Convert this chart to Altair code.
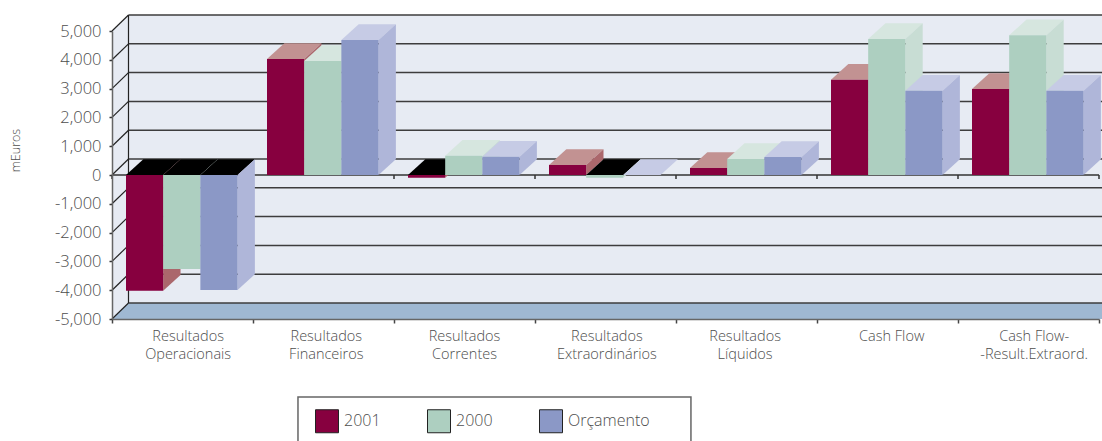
import altair as alt
import pandas as pd

CATEGORIES = [
    "Resultados\nOperacionais",
    "Resultados\nFinanceiros",
    "Resultados\nCorrentes",
    "Resultados\nExtraordinários",
    "Resultados\nLíquidos",
    "Cash Flow",
    "Cash Flow-\n-Result.Extraord.",
]
SERIES = ["2001", "2000", "Orçamento"]
VALUES_2001 = [-4020, 4030, -95, 345, 245, 3310, 2985]
VALUES_2000 = [-3265, 3960, 670, -95, 555, 4720, 4850]
VALUES_BUDGET = [-3990, 4690, 635, 0, 625, 2925, 2925]
SERIES_VALUES = [VALUES_2001, VALUES_2000, VALUES_BUDGET]

FRONT = ["#87003f", "#adcfc0", "#8b98c6"]
TOP = ["#c29292", "#d6e6df", "#c6cbe5"]
SIDE = ["#ab676c", "#c8ddd4", "#afb6d9"]
WALL = "#e7ebf3"
FLOOR = "#9fb8d2"
TEXT = "#4d4d4d"
FONT = "Open Sans"

LEVELS = list(range(-5000, 6000, 1000))
TICK_LEVELS = [v for v in LEVELS if v <= 5000]
EDGES = list(range(8))
LABEL_CENTERS = [0.54, 1.52, 2.50, 3.51, 4.49, 5.53, 6.54]

# Oblique projection of the depth axis, in data units
WALL_DX, WALL_DY = 0.117, 555
BAR_DX, BAR_DY = 0.123, 545
BAR_START, BAR_WIDTH = 0.0993, 0.2637
RIGHT = 7.2

X = alt.Scale(domain=[0, 7], nice=False, zero=False)
Y = alt.Scale(domain=[-5000, 5000], nice=False, zero=False)

X_AXIS = alt.Axis(
    values=EDGES, labels=False, grid=False, tickSize=4, tickColor="#444444",
    tickWidth=1.5, domainColor="#666666", domainWidth=1.5, zindex=1, title=None,
)
Y_AXIS = alt.Axis(
    values=TICK_LEVELS,
    labelExpr="replace(format(datum.value, ','), '−', '-')",
    grid=False, tickSize=3, tickColor="#333333", tickWidth=1.5,
    domainColor="#666666", domainWidth=1.5, labelColor=TEXT, labelFont=FONT,
    labelFontSize=16.5, labelFontWeight=300, labelPadding=8, zindex=1,
    title="mEuros", titleFont=FONT, titleFontSize=12.5, titleFontWeight=300,
    titleColor=TEXT, titleX=-90, titleY=119, titleAngle=270,
)


def xq(field="x"):
    return alt.X(f"{field}:Q", scale=X, axis=X_AXIS)


def yq(field="y"):
    return alt.Y(f"{field}:Q", scale=Y, axis=Y_AXIS)


def x2(field="x2"):
    return alt.X2(f"{field}:Q")


def y2(field="y2"):
    return alt.Y2(f"{field}:Q")


def rules(rows, color, width):
    return alt.Chart(pd.DataFrame(rows)).mark_rule(color=color, strokeWidth=width).encode(
        x=xq(), x2=x2(), y=yq(), y2=y2()
    )


def vertical_face(rows, color):
    """Parallelogram with vertical ends: bar sides and the left wall."""
    return alt.Chart(pd.DataFrame(rows)).mark_area(
        color=color, orient="vertical", opacity=1
    ).encode(x=xq(), y=yq(), y2=y2(), detail="key:N")


def horizontal_face(rows, color):
    """Parallelogram with horizontal ends: bar tops and the floor."""
    return alt.Chart(pd.DataFrame(rows)).mark_area(
        color=color, orient="horizontal", opacity=1
    ).encode(y=yq(), x=xq(), x2=x2(), detail="key:N")


layers = []

# Back wall, left wall and floor
layers.append(
    alt.Chart(pd.DataFrame([{"x": WALL_DX, "x2": RIGHT, "y": -5000 + WALL_DY, "y2": 5000 + WALL_DY}]))
    .mark_rect(color=WALL, opacity=1)
    .encode(x=xq(), x2=x2(), y=yq(), y2=y2())
)
layers.append(vertical_face(
    [{"key": "wall", "x": 0, "y": -5000, "y2": 5000},
     {"key": "wall", "x": WALL_DX, "y": -5000 + WALL_DY, "y2": 5000 + WALL_DY}], WALL))
layers.append(horizontal_face(
    [{"key": "floor", "y": -5000, "x": 0, "x2": RIGHT},
     {"key": "floor", "y": -5000 + WALL_DY, "x": WALL_DX, "x2": RIGHT + WALL_DX}], FLOOR))

# Gridlines along the back wall, their diagonals on the left wall, and its far corner
back_lines = [{"x": WALL_DX, "x2": RIGHT, "y": v + WALL_DY, "y2": v + WALL_DY} for v in TICK_LEVELS]
diagonals = [{"x": 0, "x2": WALL_DX, "y": v, "y2": v + WALL_DY} for v in TICK_LEVELS]
corner = [{"x": WALL_DX, "x2": WALL_DX, "y": -5000 + WALL_DY, "y2": 5000 + WALL_DY}]
layers.append(rules(back_lines, "#3d3d3d", 1.5))
layers.append(rules(diagonals + corner, "#222222", 1.2))

# Zero line with its tick marks
layers.append(rules([{"x": 0, "x2": 7, "y": 0, "y2": 0}], "#333333", 1.5))
layers.append(rules([{"x": e, "x2": e, "y": 0, "y2": -140} for e in EDGES], "#333333", 1.5))

# Bars, painted from the first series to the last so that each hides the side of the one before
for s, (name, vals) in enumerate(zip(SERIES, SERIES_VALUES)):
    rows = []
    for c, v in enumerate(vals):
        left = c + BAR_START + s * BAR_WIDTH
        rows.append({"key": c, "left": left, "right": left + BAR_WIDTH, "v": v})
    tops, dark_tops, sides, fronts = [], [], [], []
    for r in rows:
        level = max(r["v"], 0)
        target = dark_tops if r["v"] < 0 else tops
        target.append({"key": r["key"], "y": level, "x": r["left"], "x2": r["right"]})
        target.append({"key": r["key"], "y": level + BAR_DY,
                       "x": r["left"] + BAR_DX, "x2": r["right"] + BAR_DX})
        sides.append({"key": r["key"], "x": r["right"], "y": 0, "y2": r["v"]})
        sides.append({"key": r["key"], "x": r["right"] + BAR_DX, "y": BAR_DY, "y2": r["v"] + BAR_DY})
        fronts.append({"series": name, "x": r["left"], "x2": r["right"], "y": 0, "y2": r["v"]})
    layers.append(horizontal_face(tops, TOP[s]))
    if dark_tops:
        layers.append(horizontal_face(dark_tops, "#000000"))
    layers.append(vertical_face(sides, SIDE[s]))
    layers.append(
        alt.Chart(pd.DataFrame(fronts)).mark_rect(opacity=1).encode(
            x=xq(), x2=x2(), y=yq(), y2=y2(),
            color=alt.Color("series:N", scale=alt.Scale(domain=SERIES, range=FRONT), legend=alt.Legend(
                title=None, orient="none", legendX=203, legendY=378, direction="horizontal",
                columns=3, columnPadding=44, symbolType="square", symbolSize=529,
                symbolStrokeColor="#222222", symbolStrokeWidth=1, symbolOpacity=1,
                labelFont=FONT, labelFontSize=16, labelFontWeight=300, labelColor=TEXT,
                labelOffset=5, padding=0)),
        )
    )

# Category names under the axis
labels = pd.DataFrame({"x": LABEL_CENTERS, "y": [-5000] * 7, "label": CATEGORIES})
layers.append(
    alt.Chart(labels).mark_text(
        lineBreak="\n", lineHeight=18, baseline="top", align="center", dy=11,
        font=FONT, fontSize=14.5, fontWeight=300, color=TEXT,
    ).encode(x=xq(), y=yq(), text="label:N")
)

# Frame around the legend; it runs off the lower edge of the page
layers.append(
    alt.Chart(pd.DataFrame([{"x": 1.319, "x2": 4.106, "y": -7708, "y2": -9800}]))
    .mark_rect(fillOpacity=0, stroke="#666666", strokeWidth=1.5)
    .encode(x=xq(), x2=x2(), y=yq(), y2=y2())
)

chart = (
    alt.layer(*layers)
    .properties(
        width=987,
        height=288,
        padding={"left": 112, "top": 31, "right": 3, "bottom": 122},
        autosize=alt.AutoSizeParams(type="none"),
    )
    .configure_view(stroke=None)
    .configure(background="white")
)

chart.save("out.html", embed_options={"renderer": "svg", "actions": False})
